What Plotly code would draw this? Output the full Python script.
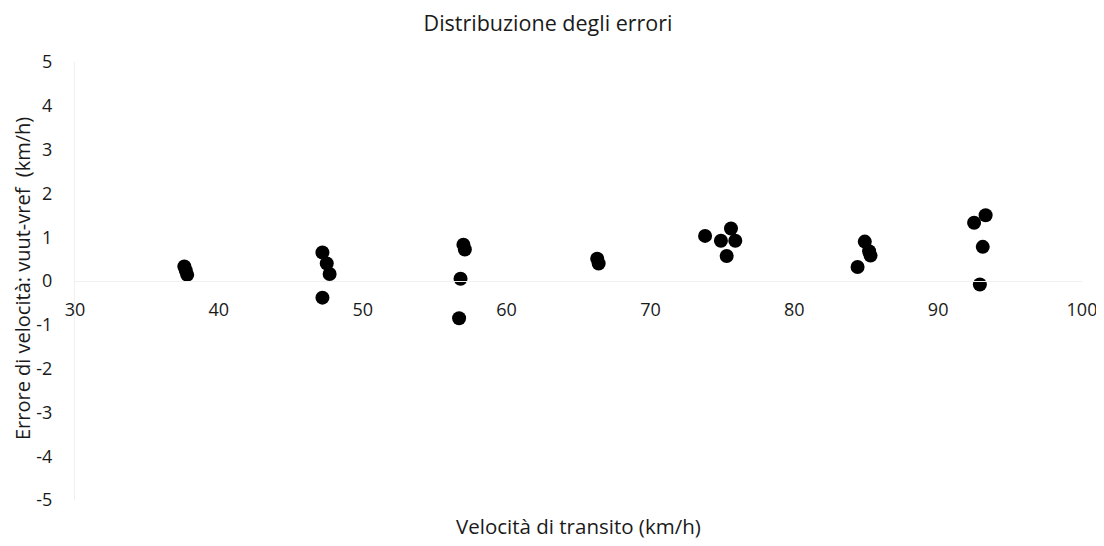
import plotly.graph_objects as go

# Data
speed = [37.6, 37.7, 37.8,
         47.2, 47.5, 47.7, 47.2,
         57.0, 57.1, 56.8, 56.7,
         66.3, 66.4,
         73.8, 74.9, 75.6, 75.9, 75.3,
         84.9, 85.2, 85.3, 84.4,
         92.5, 93.3, 93.1, 92.9]
error = [0.33, 0.24, 0.14,
         0.65, 0.40, 0.16, -0.38,
         0.83, 0.72, 0.05, -0.85,
         0.51, 0.40,
         1.03, 0.92, 1.20, 0.92, 0.57,
         0.90, 0.68, 0.58, 0.32,
         1.33, 1.50, 0.78, -0.08]

x_ticks = [30, 40, 50, 60, 70, 80, 90, 100]
y_ticks = [5, 4, 3, 2, 1, 0, -1, -2, -3, -4, -5]
y_tick_labels = [str(v) for v in y_ticks]

title_text = "Distribuzione degli errori"
x_title = "Velocità di transito (km/h)"
y_title = "Errore di velocità: vuut-vref  (km/h)"

FONT = "Open Sans"
TXT = "#1a1a1a"
fig = go.Figure()
fig.add_trace(go.Scatter(x=speed, y=error, mode="markers",
                         marker=dict(color="black", size=14, line=dict(width=0)),
                         showlegend=False, hoverinfo="skip"))

fig.update_layout(
    width=1096, height=538,
    margin=dict(l=67, r=22, t=54, b=46, autoexpand=False),
    paper_bgcolor="white", plot_bgcolor="white",
    font=dict(family=FONT, size=18, color=TXT),
    title=dict(text=title_text, xref="container", x=0.4927, xanchor="center",
               yref="container", y=0.971, yanchor="middle",
               font=dict(family=FONT, size=21.5, color=TXT)),
    xaxis=dict(range=[30, 100], tickvals=x_ticks, showgrid=False, zeroline=False,
               anchor="free", position=0.5, showline=True, linecolor="#f0f0f0", linewidth=1,
               ticks="", ticklabelstandoff=12, tickfont=dict(size=18), automargin=False),
    yaxis=dict(range=[-5, 5], tickvals=y_ticks, ticktext=y_tick_labels,
               showgrid=False, zeroline=False,
               showline=True, linecolor="#f0f0f0", linewidth=1,
               ticks="", ticklabelstandoff=18, tickfont=dict(size=18), automargin=False),
    annotations=[
        dict(text=x_title, xref="paper", yref="paper", x=0.5, y=0, yshift=-26,
             xanchor="center", yanchor="middle", showarrow=False,
             font=dict(family=FONT, size=20.5, color=TXT)),
        dict(text=y_title, xref="paper", yref="paper", x=0, xshift=-53, y=0.5, yshift=2,
             xanchor="center", yanchor="middle", textangle=-90, showarrow=False,
             font=dict(family=FONT, size=20, color=TXT)),
    ],
)
fig.write_html("out.html")
